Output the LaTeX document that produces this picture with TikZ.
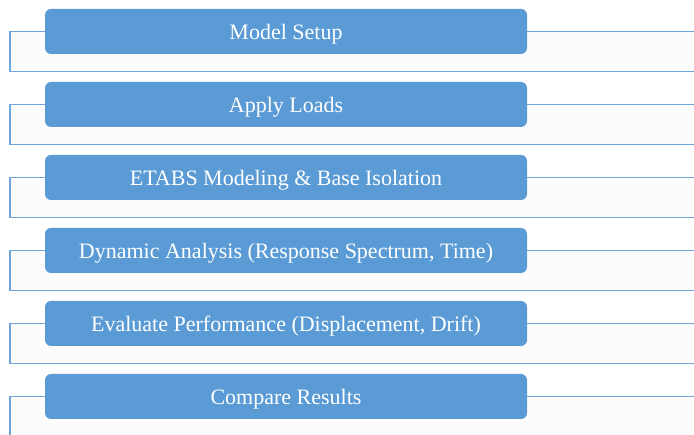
\documentclass[tikz,border=0pt]{standalone}
\usepackage{fontspec}
\setmainfont{Liberation Serif}
\definecolor{boxblue}{HTML}{5B9BD5}
\definecolor{lineblue}{HTML}{6FA5DA}
\definecolor{bgfill}{HTML}{FCFCFC}
\begin{document}
\begin{tikzpicture}[x=1pt,y=-1pt,
  stepbox/.style={draw=none,fill=boxblue,rounded corners=6pt,minimum width=482pt,minimum height=45pt,
    text=white,font=\fontsize{22}{26}\selectfont,inner sep=0pt,text height=17pt,text depth=0pt},
  backframe/.style={draw=lineblue,line width=1.3pt,fill=bgfill}]
\useasboundingbox (0,0) rectangle (694,435);
\clip (0,0) rectangle (694,435);
\foreach \i/\t in {0/{Model Setup},1/{Apply Loads},2/{ETABS Modeling \& Base Isolation},3/{Dynamic Analysis (Response Spectrum, Time)},4/{Evaluate Performance (Displacement, Drift)},5/{Compare Results}}{
  \pgfmathsetmacro{\c}{31.5+73*\i}
  \draw[backframe] (10,\c) rectangle (710,\c+40);
  \node[stepbox] (s\i) at (286,\c) {\t};
}
\end{tikzpicture}
\end{document}
